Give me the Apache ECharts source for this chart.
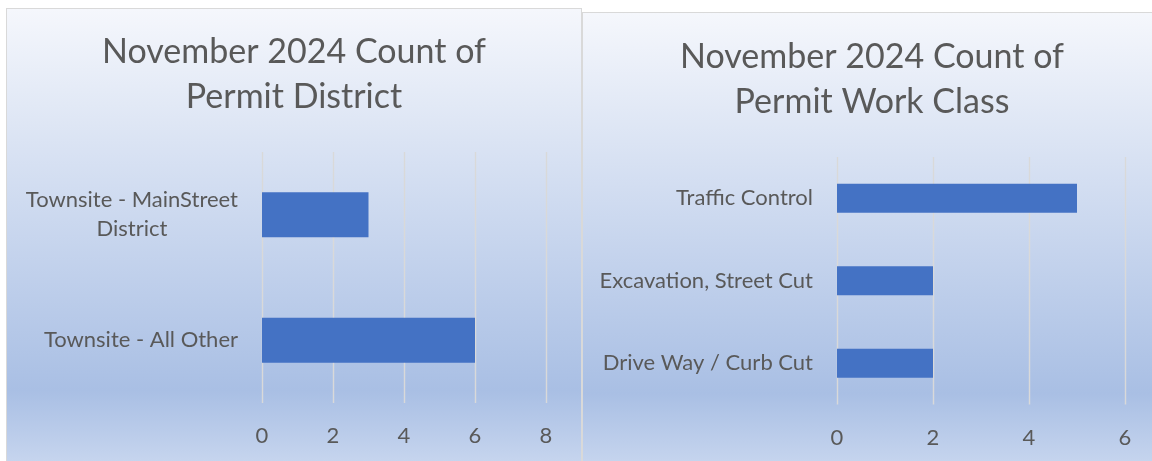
<!DOCTYPE html>
<html>
<head>
<meta charset="utf-8">
<script src="https://cdn.jsdelivr.net/npm/echarts@6/dist/echarts.min.js"></script>
<style>
  html, body { margin: 0; padding: 0; background: #ffffff; overflow: hidden; }
  body { width: 1152px; height: 461px; position: relative; }
  .panel { position: absolute; border: 1px solid #d9d9d9; box-sizing: border-box; }
  #left { left: 6px; top: 8px; width: 576px; height: 462px; }
  #right { left: 582px; top: 12px; width: 580px; height: 460px; }
</style>
</head>
<body>
<div class="panel" id="left"></div>
<div class="panel" id="right"></div>
<script>
// left chart: permit district
const districtCategories = ["Townsite - All Other", "Townsite - MainStreet District"];
const districtCounts = [6, 3];
const districtTicks = [0, 2, 4, 6, 8];

// right chart: permit work class
const workClassCategories = ["Drive Way / Curb Cut", "Excavation, Street Cut", "Traffic Control"];
const workClassCounts = [2, 2, 5];
const workClassTicks = [0, 2, 4, 6];

const FONT = "Lato, 'Noto Sans', sans-serif";
const TEXT = "#595959";
const LABEL_SIZE = 22;

function bg() {
  return new echarts.graphic.LinearGradient(0, 0, 0, 1, [
    { offset: 0, color: "#f5f7fc" },
    { offset: 0.83, color: "#a9bfe4" },
    { offset: 1, color: "#c9d7ef" },
  ]);
}

function makeOption(cfg) {
  const ticks = cfg.ticks;
  return {
    backgroundColor: bg(),
    animation: false,
    title: {
      text: cfg.title,
      left: "center",
      top: cfg.titleTop,
      textStyle: {
        fontFamily: FONT,
        fontSize: 34,
        fontWeight: "normal",
        color: TEXT,
        lineHeight: 45,
      },
    },
    grid: cfg.grid,
    xAxis: {
      type: "value",
      min: ticks[0],
      max: ticks[ticks.length - 1],
      interval: ticks[1] - ticks[0],
      axisLine: { show: false },
      axisTick: { show: false },
      axisLabel: { color: TEXT, fontFamily: FONT, fontSize: LABEL_SIZE, margin: 22 },
      splitLine: { lineStyle: { color: "#d9d9d9", width: 1.4 } },
    },
    yAxis: {
      type: "category",
      data: cfg.categories,
      axisLine: { show: false },
      axisTick: { show: false },
      axisLabel: {
        color: TEXT,
        fontFamily: FONT,
        fontSize: LABEL_SIZE,
        margin: 24,
        formatter: function (v) {
          return cfg.wrap && cfg.wrap[v]
            ? cfg.wrap[v].map((s) => "{c|" + s + "}").join("\n")
            : "{c|" + v + "}";
        },
        rich: {
          c: { align: "center", fontFamily: FONT, fontSize: LABEL_SIZE, color: TEXT, lineHeight: 29 },
        },
      },
    },
    series: [
      {
        type: "bar",
        data: cfg.values,
        barWidth: cfg.barWidth,
        itemStyle: { color: "#4472c4" },
      },
    ],
  };
}

const leftChart = echarts.init(document.getElementById("left"));
leftChart.setOption(
  makeOption({
    title: "November 2024 Count of\nPermit District",
    titleTop: 16,
    categories: districtCategories,
    values: districtCounts,
    ticks: districtTicks,
    grid: { left: 255, right: 35, top: 143, bottom: 66 },
    barWidth: 45,
    wrap: { "Townsite - MainStreet District": ["Townsite - MainStreet", "District"] },
  })
);

const rightChart = echarts.init(document.getElementById("right"));
rightChart.setOption(
  makeOption({
    title: "November 2024 Count of\nPermit Work Class",
    titleTop: 17,
    categories: workClassCategories,
    values: workClassCounts,
    ticks: workClassTicks,
    grid: { left: 254, right: 36, top: 144, bottom: 66.5 },
    barWidth: 29,
  })
);

window.addEventListener("resize", function () {
  leftChart.resize();
  rightChart.resize();
});
</script>
</body>
</html>
